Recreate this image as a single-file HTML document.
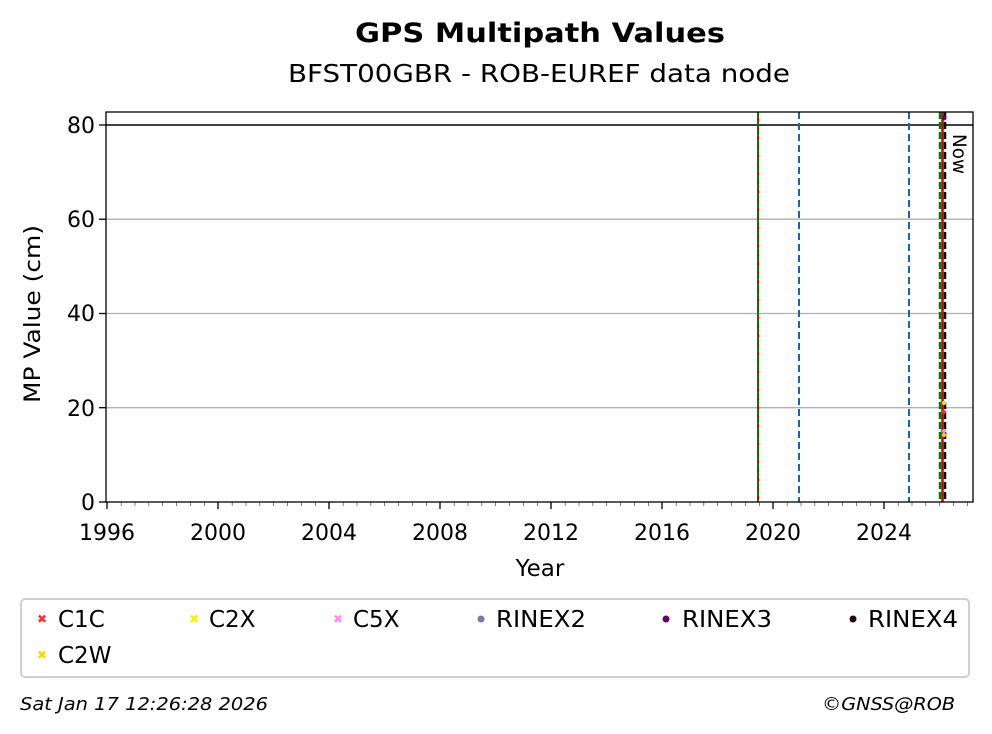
<!DOCTYPE html>
<html><head><meta charset="utf-8"><style>
body{margin:0;background:#fff}
svg{display:block;font-family:"DejaVu Sans","Liberation Sans",sans-serif}
</style></head><body>
<svg width="992" height="734" viewBox="0 0 992 734" xmlns="http://www.w3.org/2000/svg">
<defs>
<pattern id="mt" x="107" y="0" width="13.875" height="734" patternUnits="userSpaceOnUse">
<line x1="0" y1="502" x2="0" y2="506" stroke="#000" stroke-width="1"/>
</pattern>
</defs>
<rect width="992" height="734" fill="#fff"/>
<text x="540" y="42" font-size="27" font-weight="bold" text-anchor="middle" textLength="370" lengthAdjust="spacingAndGlyphs">GPS Multipath Values</text>
<text x="539" y="82" font-size="25" text-anchor="middle" textLength="502" lengthAdjust="spacingAndGlyphs">BFST00GBR - ROB-EUREF data node</text>
<!-- grid -->
<g stroke="#b0b0b0" stroke-width="1.3">
<line x1="106" y1="407.7" x2="973" y2="407.7"/>
<line x1="106" y1="313.5" x2="973" y2="313.5"/>
<line x1="106" y1="219.2" x2="973" y2="219.2"/>
</g>
<line x1="106" y1="125" x2="973" y2="125" stroke="#000" stroke-width="1.5"/>
<!-- vertical lines -->
<line x1="758" y1="112" x2="758" y2="502" stroke="#d00000" stroke-width="2"/>
<line x1="758" y1="112" x2="758" y2="502" stroke="#007a00" stroke-width="2" stroke-dasharray="6,3"/>
<line x1="799" y1="112" x2="799" y2="502" stroke="#1565c0" stroke-width="2" stroke-dasharray="7,4"/>
<line x1="909" y1="112" x2="909" y2="502" stroke="#1565c0" stroke-width="2" stroke-dasharray="7,4"/>
<line x1="940" y1="112" x2="940" y2="502" stroke="#007a00" stroke-width="2.5" stroke-dasharray="7,3"/>
<line x1="945" y1="112" x2="945" y2="502" stroke="#000" stroke-width="2.5" stroke-dasharray="7,3"/>
<line x1="942.5" y1="112" x2="942.5" y2="502" stroke="#d00000" stroke-width="2.5"/>
<circle cx="944" cy="118" r="2.5" fill="#660066"/>
<circle cx="944" cy="403" r="2" fill="#ffee00"/>
<circle cx="944" cy="412" r="2" fill="#ff3030"/>
<circle cx="944" cy="431" r="2" fill="#ff88ff"/>
<circle cx="944" cy="435" r="2" fill="#ffd700"/>
<text transform="translate(953,134) rotate(90)" font-size="19" textLength="40" lengthAdjust="spacingAndGlyphs">Now</text>
<!-- axes -->
<rect x="106" y="112" width="867" height="390" fill="none" stroke="#000" stroke-width="1.3"/>
<rect x="106" y="502" width="867" height="5" fill="url(#mt)"/>
<g stroke="#000" stroke-width="1.3">
<line x1="107" y1="502" x2="107" y2="509"/><line x1="218" y1="502" x2="218" y2="509"/>
<line x1="329" y1="502" x2="329" y2="509"/><line x1="440" y1="502" x2="440" y2="509"/>
<line x1="551" y1="502" x2="551" y2="509"/><line x1="662" y1="502" x2="662" y2="509"/>
<line x1="773" y1="502" x2="773" y2="509"/><line x1="884" y1="502" x2="884" y2="509"/>
<line x1="99" y1="502" x2="106" y2="502"/><line x1="99" y1="407.7" x2="106" y2="407.7"/>
<line x1="99" y1="313.5" x2="106" y2="313.5"/><line x1="99" y1="219.2" x2="106" y2="219.2"/>
<line x1="99" y1="125" x2="106" y2="125"/>
</g>
<g font-size="22" text-anchor="middle">
<text x="107" y="540">1996</text><text x="218" y="540">2000</text><text x="329" y="540">2004</text>
<text x="440" y="540">2008</text><text x="551" y="540">2012</text><text x="662" y="540">2016</text>
<text x="773" y="540">2020</text><text x="884" y="540">2024</text>
</g>
<g font-size="22" text-anchor="end">
<text x="95" y="510">0</text><text x="95" y="416">20</text><text x="95" y="321">40</text>
<text x="95" y="227">60</text><text x="95" y="133">80</text>
</g>
<text x="540" y="576" font-size="23" text-anchor="middle">Year</text>
<text transform="translate(40,314) rotate(-90)" font-size="22" text-anchor="middle" textLength="178" lengthAdjust="spacingAndGlyphs">MP Value (cm)</text>
<!-- legend -->
<rect x="21" y="599" width="948" height="78" rx="4" fill="#fff" stroke="#d0d0d0" stroke-width="2"/>
<g font-size="23">
<text x="42" y="623" fill="#ff3030" font-size="12" font-weight="bold" text-anchor="middle">✖</text><text x="58" y="627">C1C</text>
<text x="194" y="623" fill="#ffee00" font-size="12" font-weight="bold" text-anchor="middle">✖</text><text x="209" y="627">C2X</text>
<text x="338" y="623" fill="#ff88ff" font-size="12" font-weight="bold" text-anchor="middle">✖</text><text x="353" y="627">C5X</text>
<circle cx="481" cy="619" r="3.5" fill="#7777bb"/><text x="496" y="627" textLength="90" lengthAdjust="spacingAndGlyphs">RINEX2</text>
<circle cx="666" cy="619" r="3.5" fill="#660066"/><text x="682" y="627" textLength="90" lengthAdjust="spacingAndGlyphs">RINEX3</text>
<circle cx="853" cy="619" r="3.5" fill="#220011"/><text x="868" y="627" textLength="90" lengthAdjust="spacingAndGlyphs">RINEX4</text>
<text x="42" y="659" fill="#ffd700" font-size="12" font-weight="bold" text-anchor="middle">✖</text><text x="58" y="663">C2W</text>
</g>
<text x="20" y="710" font-size="18" font-style="italic" textLength="248" lengthAdjust="spacingAndGlyphs">Sat Jan 17 12:26:28 2026</text>
<text x="955" y="710" font-size="18" font-style="italic" text-anchor="end" textLength="133" lengthAdjust="spacingAndGlyphs">©GNSS@ROB</text>
</svg>
</body></html>
